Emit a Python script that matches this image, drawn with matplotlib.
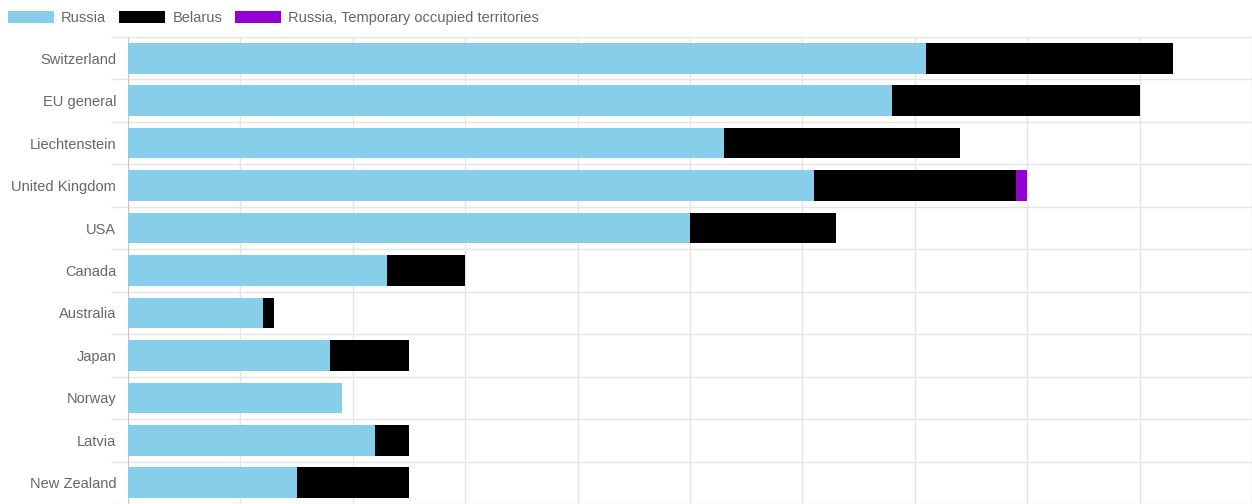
import matplotlib.pyplot as plt
from matplotlib.patches import Patch
import numpy as np

plt.rcParams['font.family'] = ['Liberation Sans', 'DejaVu Sans']

# data
countries = ["Switzerland", "EU general", "Liechtenstein", "United Kingdom", "USA",
             "Canada", "Australia", "Japan", "Norway", "Latvia", "New Zealand"]
russia = [355, 340, 265, 305, 250, 115, 60, 90, 95, 110, 75]
belarus = [110, 110, 105, 90, 65, 35, 5, 35, 0, 15, 50]
occupied = [0, 0, 0, 5, 0, 0, 0, 0, 0, 0, 0]

series_names = ["Russia", "Belarus", "Russia, Temporary occupied territories"]
colors = ["#87ceeb", "#000000", "#9400d3"]

fig = plt.figure(figsize=(12.52, 5.04), dpi=100)
ax = fig.add_axes([128/1252, 0.0, 1 - 128/1252, 1 - 37/504])

y = np.arange(len(countries))
h = 0.72
left = np.zeros(len(countries))
for vals, c in zip([russia, belarus, occupied], colors):
    vals = np.array(vals, dtype=float)
    ax.barh(y, vals, left=left, height=h, color=c, edgecolor="none", zorder=3)
    left += vals

ax.set_xlim(0, 500)
ax.set_ylim(len(countries) - 0.5, -0.5)

# grid
ax.set_xticks(np.arange(0, 501, 50))
ax.set_xticklabels([])
ax.tick_params(axis="x", length=0)
ax.grid(axis="x", color="#e5e5e5", linewidth=1, zorder=0)

ax.set_yticks(y)
ax.set_yticklabels(countries, color="#666666", fontsize=10.5)
ax.tick_params(axis="y", which="major", length=0, pad=8.5)
ax.set_yticks(np.arange(-0.5, len(countries), 1), minor=True)
ax.tick_params(axis="y", which="minor", length=12, color="#e5e5e5", width=1)
ax.grid(axis="y", which="minor", color="#e5e5e5", linewidth=1, zorder=0)

for s in ["right", "bottom"]:
    ax.spines[s].set_visible(False)
ax.spines["top"].set_color("#e5e5e5")
ax.spines["left"].set_color("#c8c8c8")

handles = [Patch(facecolor=c, edgecolor="none") for c in colors]
fig.legend(handles, series_names, loc="upper left", bbox_to_anchor=(5/1252, 1 - 8/504),
           ncol=3, frameon=False, fontsize=10.5, labelcolor="#666666",
           handlelength=3.15, handleheight=0.95, handletextpad=0.5,
           columnspacing=0.88, borderaxespad=0, borderpad=0.2)

fig.savefig("out.png", dpi=100)
